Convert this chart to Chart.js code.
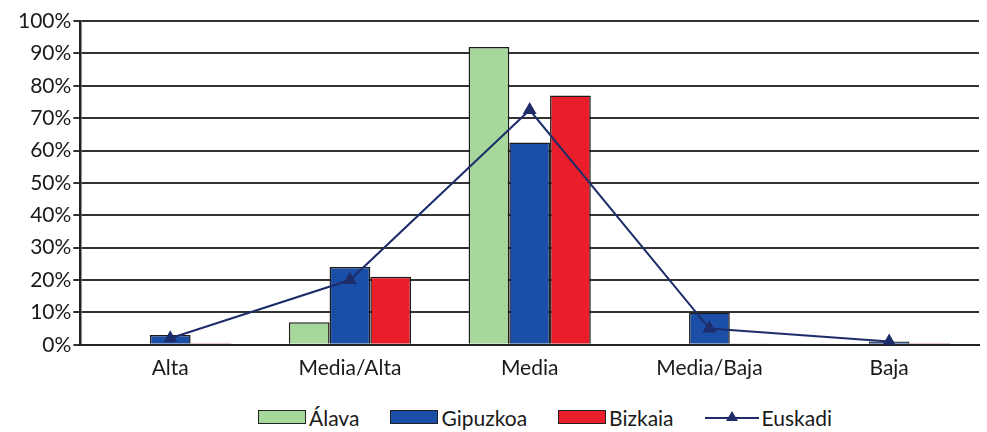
<!DOCTYPE html>
<html>
<head>
<meta charset="utf-8">
<script src="https://cdn.jsdelivr.net/npm/chart.js@4.4.1/dist/chart.umd.min.js"></script>
<style>
  html, body { margin: 0; padding: 0; background: #fff; }
  #wrap { position: relative; width: 987px; height: 432px; }
  #chart { position: absolute; left: 0; top: 0; }
  #legend { position: absolute; left: 258px; top: 404px; height: 26px; display: flex; align-items: center; font-family: Lato, sans-serif; font-size: 21px; color: #1a1a1a; }
  #legend .item { display: flex; align-items: center; margin-right: 31px; }
  #legend .box { width: 46px; height: 12px; border: 1.5px solid #222; margin-right: 3px; }
  #legend svg { margin-right: 3px; }
</style>
</head>
<body>
<div id="wrap">
  <canvas id="chart" width="987" height="400"></canvas>
  <div id="legend"></div>
</div>
<script>
const categories = ['Alta', 'Media/Alta', 'Media', 'Media/Baja', 'Baja'];
const alava = [0, 7, 92, 0.3, 0];
const gipuzkoa = [3, 24, 62.5, 10, 1];
const bizkaia = [0.5, 21, 77, 0.4, 0.5];
const euskadi = [2, 20, 72.5, 5, 1];

const colors = { alava: '#a6d79b', gipuzkoa: '#1b4ea6', bizkaia: '#ea1d2a', euskadi: '#1e2d6a' };
const fontFamily = 'Lato, sans-serif';

const bar = (label, data, color) => ({
  type: 'bar', label, data, backgroundColor: color, borderColor: '#1c1c1c', borderWidth: 1.5, order: 2
});

new Chart(document.getElementById('chart'), {
  data: {
    labels: categories,
    datasets: [
      bar('Álava', alava, colors.alava),
      bar('Gipuzkoa', gipuzkoa, colors.gipuzkoa),
      bar('Bizkaia', bizkaia, colors.bizkaia),
      {
        type: 'line', label: 'Euskadi', data: euskadi, order: 1,
        borderColor: colors.euskadi, backgroundColor: colors.euskadi, borderWidth: 2,
        pointStyle: 'triangle', pointRadius: 6, tension: 0
      }
    ]
  },
  options: {
    responsive: false,
    animation: false,
    layout: { padding: { top: 21, right: 0, left: 16, bottom: 8 } },
    datasets: { bar: { categoryPercentage: 0.68, barPercentage: 1 } },
    plugins: { legend: { display: false }, tooltip: { enabled: false } },
    scales: {
      x: {
        grid: { display: false, drawTicks: false },
        border: { color: '#222', width: 2 },
        ticks: { color: '#1a1a1a', font: { family: fontFamily, size: 21 }, padding: 11 }
      },
      y: {
        min: 0, max: 100,
        ticks: { stepSize: 10, color: '#1a1a1a', font: { family: fontFamily, size: 21 }, padding: 2, callback: v => v + '%' },
        grid: { color: '#333', lineWidth: 2, tickLength: 7 },
        border: { color: '#222', width: 2.5 }
      }
    }
  }
});

const legend = document.getElementById('legend');
[['Álava', colors.alava], ['Gipuzkoa', colors.gipuzkoa], ['Bizkaia', colors.bizkaia]].forEach(([name, c]) => {
  legend.insertAdjacentHTML('beforeend', `<div class="item"><span class="box" style="background:${c}"></span>${name}</div>`);
});
legend.insertAdjacentHTML('beforeend',
  `<div class="item"><svg width="54" height="16"><line x1="0" y1="9" x2="54" y2="9" stroke="${colors.euskadi}" stroke-width="2"/><polygon points="27,2 33,12 21,12" fill="${colors.euskadi}"/></svg>Euskadi</div>`);
</script>
</body>
</html>
